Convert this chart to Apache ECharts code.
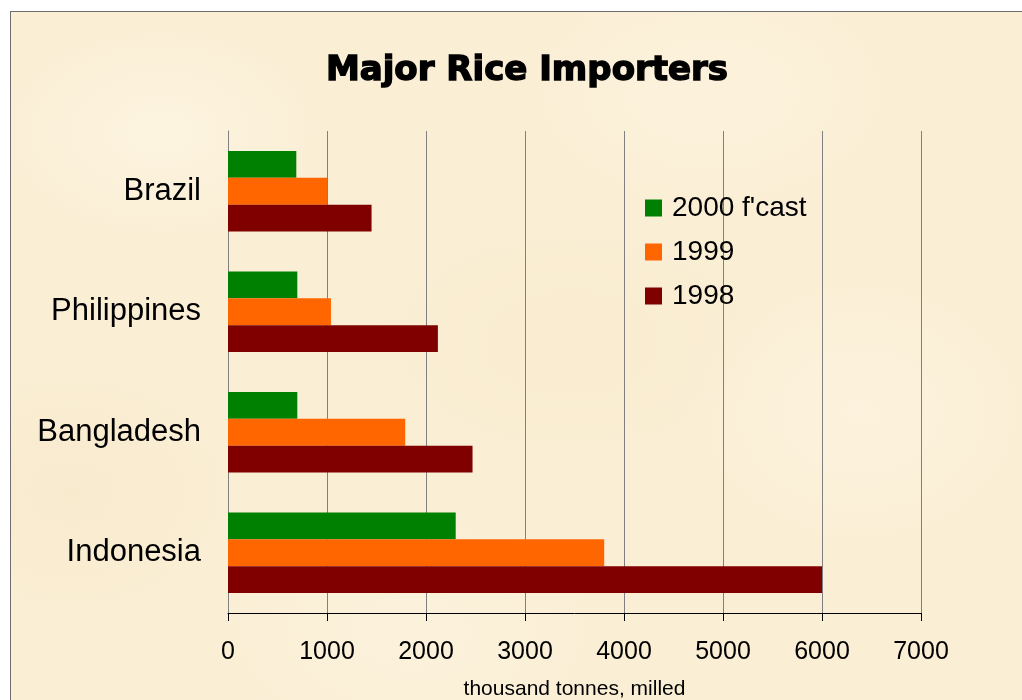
<!DOCTYPE html>
<html>
<head>
<meta charset="utf-8">
<script src="https://cdn.jsdelivr.net/npm/echarts@6/dist/echarts.min.js"></script>
<style>
  html, body { margin: 0; padding: 0; background: #ffffff; width: 1022px; height: 700px; overflow: hidden; }
  #frame {
    position: absolute; left: 10px; top: 11px; width: 1012px; height: 689px;
    border-top: 1px solid #6e6e6e; border-left: 1px solid #6e6e6e;
    background-color: #faeed4;
    background-image:
      radial-gradient(ellipse 180px 120px at 150px 120px, rgba(255,248,232,0.6), rgba(255,248,232,0) 100%),
      radial-gradient(ellipse 220px 140px at 700px 80px, rgba(255,246,228,0.5), rgba(255,246,228,0) 100%),
      radial-gradient(ellipse 200px 160px at 850px 400px, rgba(255,247,230,0.5), rgba(255,247,230,0) 100%),
      radial-gradient(ellipse 240px 150px at 400px 620px, rgba(255,247,230,0.4), rgba(255,247,230,0) 100%),
      radial-gradient(ellipse 160px 120px at 60px 480px, rgba(244,228,196,0.4), rgba(244,228,196,0) 100%),
      radial-gradient(ellipse 200px 120px at 560px 330px, rgba(246,232,202,0.35), rgba(246,232,202,0) 100%);
  }
  #chart { position: absolute; left: 0; top: 0; width: 1012px; height: 689px; }
</style>
</head>
<body>
<div id="frame"><div id="chart"></div></div>
<script>
// Data
const categories = ['Indonesia', 'Bangladesh', 'Philippines', 'Brazil'];
const seriesNames = ["2000 f'cast", '1999', '1998'];
const values2000 = [2300, 700, 700, 690];
const values1999 = [3800, 1790, 1040, 1000];
const values1998 = [6000, 2470, 2120, 1450];
const xTicks = [0, 1000, 2000, 3000, 4000, 5000, 6000, 7000];

const chart = echarts.init(document.getElementById('chart'), null, { renderer: 'canvas', width: 1012, height: 689 });
const font = 'Liberation Sans, Arial, sans-serif';

chart.setOption({
  backgroundColor: 'transparent',
  animation: false,
  textStyle: { fontFamily: font },
  graphic: [{
    type: 'text', x: 516, y: 59,
    style: {
      text: 'Major Rice Importers', fill: '#000', stroke: '#000', lineWidth: 1.4,
      font: 'bold 34px "DejaVu Sans", sans-serif',
      textAlign: 'center', textVerticalAlign: 'middle'
    }
  }],
  legend: {
    orient: 'vertical', left: 634, top: 182, padding: 0,
    data: seriesNames, icon: 'rect', itemWidth: 17, itemHeight: 17, itemGap: 16,
    textStyle: { fontSize: 28, color: '#000', fontFamily: font, padding: [0, 0, 0, 5] }
  },
  grid: { left: 217, width: 693, top: 119, height: 482, containLabel: false, outerBoundsMode: 'none' },
  xAxis: {
    type: 'value', min: xTicks[0], max: xTicks[xTicks.length - 1], interval: 1000,
    name: 'thousand tonnes, milled', nameLocation: 'middle', nameGap: 66,
    nameTextStyle: { fontSize: 21, color: '#000', fontFamily: font },
    axisLine: { show: true, lineStyle: { color: '#000', width: 1 } },
    axisTick: { show: true, length: 8, lineStyle: { color: '#000' } },
    axisLabel: { fontSize: 25, color: '#000', margin: 27, fontFamily: font, formatter: v => String(v) },
    splitLine: { show: true, lineStyle: { color: '#808080', width: 1 } }
  },
  yAxis: {
    type: 'category', data: categories,
    axisLine: { show: true, lineStyle: { color: '#808080', width: 1 } },
    axisTick: { show: false },
    axisLabel: { fontSize: 31, color: '#000', margin: 27, fontFamily: font },
    splitLine: { show: false }
  },
  series: [
    { name: seriesNames[0], type: 'bar', data: values2000, itemStyle: { color: '#008000' }, barGap: '0%', barCategoryGap: '33%' },
    { name: seriesNames[1], type: 'bar', data: values1999, itemStyle: { color: '#ff6600' } },
    { name: seriesNames[2], type: 'bar', data: values1998, itemStyle: { color: '#800000' } }
  ]
});
</script>
</body>
</html>
